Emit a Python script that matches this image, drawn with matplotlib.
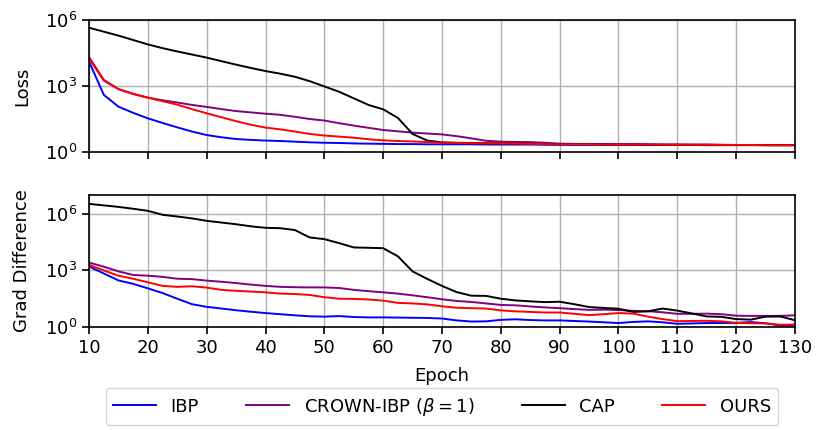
import numpy as np
import matplotlib
matplotlib.use("Agg")
import matplotlib.pyplot as plt
from matplotlib.ticker import LogLocator, NullLocator

# training epochs at which the metrics were logged
epochs = np.arange(10, 130.1, 2.5)

# log10 of training loss per method
loss_ibp = [4.11, 2.60, 2.06, 1.78, 1.53, 1.32, 1.12, 0.93, 0.77, 0.67, 0.59, 0.55,
            0.52, 0.50, 0.47, 0.44, 0.42, 0.41, 0.39, 0.38, 0.37, 0.36, 0.36, 0.35,
            0.35, 0.35, 0.35, 0.34, 0.34, 0.34, 0.34, 0.33, 0.33, 0.33, 0.33, 0.33,
            0.33, 0.33, 0.32, 0.32, 0.32, 0.32, 0.31, 0.31, 0.31, 0.31, 0.31, 0.31, 0.31]
loss_crown = [4.26, 3.25, 2.86, 2.64, 2.47, 2.35, 2.25, 2.14, 2.05, 1.95, 1.86, 1.80,
              1.74, 1.69, 1.60, 1.50, 1.43, 1.31, 1.20, 1.10, 1.00, 0.94, 0.88, 0.84,
              0.80, 0.72, 0.62, 0.51, 0.47, 0.46, 0.45, 0.42, 0.38, 0.37, 0.36, 0.36,
              0.35, 0.35, 0.34, 0.34, 0.34, 0.33, 0.33, 0.33, 0.32, 0.32, 0.32, 0.32, 0.32]
loss_cap = [5.65, 5.47, 5.29, 5.09, 4.89, 4.72, 4.57, 4.43, 4.29, 4.13, 3.97, 3.82,
            3.68, 3.56, 3.42, 3.22, 2.98, 2.74, 2.44, 2.14, 1.94, 1.55, 0.82, 0.52,
            0.44, 0.42, 0.41, 0.40, 0.39, 0.38, 0.37, 0.36, 0.35, 0.35, 0.35, 0.34,
            0.34, 0.34, 0.34, 0.33, 0.33, 0.33, 0.33, 0.32, 0.32, 0.32, 0.31, 0.31, 0.31]
loss_ours = [4.32, 3.28, 2.86, 2.64, 2.47, 2.31, 2.15, 1.95, 1.76, 1.58, 1.40, 1.24,
             1.11, 1.03, 0.93, 0.82, 0.75, 0.70, 0.65, 0.58, 0.53, 0.50, 0.48, 0.45,
             0.42, 0.41, 0.40, 0.39, 0.39, 0.38, 0.37, 0.36, 0.35, 0.35, 0.35, 0.34,
             0.34, 0.34, 0.34, 0.33, 0.33, 0.33, 0.33, 0.32, 0.32, 0.32, 0.31, 0.31, 0.31]

# log10 of gradient difference per method
grad_ibp = [3.21, 2.84, 2.47, 2.29, 2.05, 1.80, 1.50, 1.21, 1.07, 0.98, 0.89, 0.81,
            0.74, 0.68, 0.62, 0.57, 0.55, 0.58, 0.53, 0.51, 0.51, 0.50, 0.49, 0.48,
            0.45, 0.35, 0.29, 0.30, 0.38, 0.41, 0.37, 0.35, 0.35, 0.32, 0.29, 0.25,
            0.21, 0.27, 0.30, 0.25, 0.17, 0.19, 0.21, 0.21, 0.22, 0.26, 0.20, 0.08, 0.10]
grad_crown = [3.42, 3.20, 2.95, 2.76, 2.72, 2.66, 2.56, 2.54, 2.46, 2.40, 2.33, 2.25,
              2.18, 2.13, 2.11, 2.10, 2.10, 2.07, 1.97, 1.90, 1.84, 1.77, 1.68, 1.58,
              1.47, 1.38, 1.33, 1.25, 1.17, 1.15, 1.09, 1.04, 1.00, 0.95, 0.91, 0.92,
              0.90, 0.86, 0.84, 0.78, 0.70, 0.70, 0.71, 0.68, 0.60, 0.59, 0.59, 0.59, 0.62]
grad_cap = [6.53, 6.45, 6.37, 6.27, 6.16, 5.95, 5.86, 5.76, 5.63, 5.54, 5.45, 5.34,
            5.26, 5.24, 5.14, 4.75, 4.66, 4.45, 4.22, 4.20, 4.18, 3.75, 2.95, 2.55,
            2.18, 1.85, 1.66, 1.65, 1.50, 1.41, 1.36, 1.32, 1.34, 1.21, 1.06, 1.01,
            0.97, 0.80, 0.83, 0.98, 0.87, 0.72, 0.56, 0.54, 0.42, 0.39, 0.55, 0.56, 0.36]
grad_ours = [3.30, 3.00, 2.72, 2.56, 2.37, 2.18, 2.13, 2.16, 2.09, 1.97, 1.92, 1.88,
             1.84, 1.77, 1.75, 1.70, 1.58, 1.50, 1.49, 1.46, 1.40, 1.28, 1.25, 1.20,
             1.10, 1.02, 1.00, 0.98, 0.88, 0.83, 0.80, 0.77, 0.77, 0.70, 0.63, 0.68,
             0.74, 0.71, 0.55, 0.42, 0.31, 0.32, 0.33, 0.30, 0.22, 0.20, 0.19, 0.12, 0.13]

labels = ["IBP", r"CROWN-IBP ($\beta=1$)", "CAP", "OURS"]
colors = ["blue", "purple", "black", "red"]

plt.rcParams["font.size"] = 13

fig = plt.figure(figsize=(8.17, 4.30), dpi=100)
ax1 = fig.add_axes([0.109, 0.6465, 0.864, 0.307])
ax2 = fig.add_axes([0.109, 0.2395, 0.864, 0.307], sharex=ax1)

for ax, series in ((ax1, (loss_ibp, loss_crown, loss_cap, loss_ours)),
                   (ax2, (grad_ibp, grad_crown, grad_cap, grad_ours))):
    for vals, lab, c in zip(series, labels, colors):
        ax.plot(epochs, 10 ** np.array(vals), color=c, lw=1.4, label=lab)
    ax.set_yscale("log")
    ax.yaxis.set_major_locator(LogLocator(base=1000))
    ax.yaxis.set_minor_locator(NullLocator())
    ax.grid(True, color="#b0b0b0", lw=1.0)
    ax.tick_params(length=5, width=1.2)
    for s in ax.spines.values():
        s.set_linewidth(1.2)

ax1.set_ylim(1, 1e6)
ax2.set_ylim(1, 1e7)
ax1.set_xlim(10, 130)
ax1.set_xticks(np.arange(10, 131, 10))
ax1.tick_params(labelbottom=False)

ax1.set_ylabel("Loss")
ax2.set_ylabel("Grad Difference")
# both y labels share one column left of the tick labels
ax1.yaxis.set_label_coords(-0.082, 0.5)
ax2.yaxis.set_label_coords(-0.082, 0.5)
ax2.set_xlabel("Epoch", labelpad=7)

handles, labs = ax2.get_legend_handles_labels()
fig.legend(handles, labs, loc="upper center", bbox_to_anchor=(0.541, 0.097),
           borderaxespad=0, ncol=4, frameon=True, handlelength=2.4,
           columnspacing=2.6)

fig.savefig("out.png", dpi=100)
